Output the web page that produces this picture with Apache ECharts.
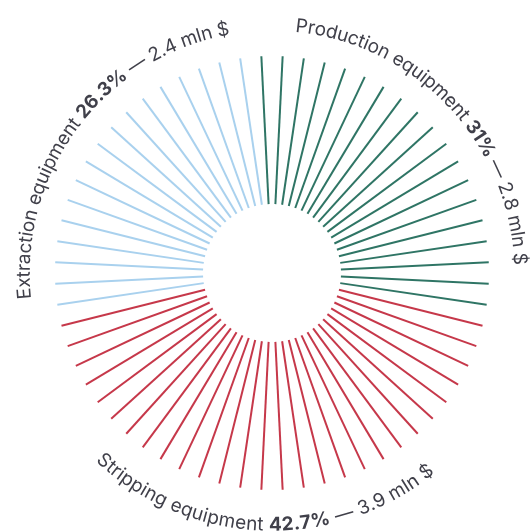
<!DOCTYPE html>
<html>
<head>
<meta charset="utf-8">
<script src="https://cdn.jsdelivr.net/npm/echarts@6/dist/echarts.min.js"></script>
<style>
html,body{margin:0;padding:0;background:#fff;}
#main{width:530px;height:531px;}
</style>
</head>
<body>
<div id="main"></div>
<script>
// ---- data ----
const categories = ['Production equipment', 'Stripping equipment', 'Extraction equipment'];
const shares = ['31%', '42.7%', '26.3%'];
const amounts = ['2.8 mln $', '3.9 mln $', '2.4 mln $'];
const rayCounts = [19, 28, 17]; // number of rays drawn per category
const colors = ['#2f7565', '#c6384a', '#a9d1ee'];

// ---- layout ----
const totalRays = rayCounts.reduce((a, b) => a + b, 0);
const labelCenterAngles = [46.8, 182, 307]; // degrees clockwise from top
const labelOnTop = [true, false, true];
const FONT = 'Inter';
const FONT_SIZE = 19;
const TEXT_COLOR = '#40404a';

const rayData = [];
let idx = 0;
rayCounts.forEach((n, c) => {
  for (let k = 0; k < n; k++) { rayData.push([idx, c]); idx++; }
});

const measureCtx = document.createElement('canvas').getContext('2d');
function charWidth(ch, bold) {
  measureCtx.font = (bold ? 'bold ' : 'normal ') + FONT_SIZE + 'px ' + FONT;
  return measureCtx.measureText(ch).width;
}

function renderLabel(params, api) {
  const c = api.value(0);
  const cs = params.coordSys;
  const r = cs.r + (labelOnTop[c] ? 31 : 35);
  const parts = [
    { t: categories[c] + ' ', b: false },
    { t: shares[c], b: true },
    { t: ' \u2014 ' + amounts[c], b: false }
  ];
  const chars = [];
  parts.forEach(p => { for (const ch of p.t) chars.push({ ch, b: p.b, w: charWidth(ch, p.b) }); });
  const total = chars.reduce((s, o) => s + o.w, 0) / r; // radians
  const center = labelCenterAngles[c] * Math.PI / 180;
  const top = labelOnTop[c];
  let pos = top ? center - total / 2 : center + total / 2;
  const children = [];
  chars.forEach(o => {
    const half = o.w / 2 / r;
    const th = top ? pos + half : pos - half;
    pos = top ? pos + o.w / r : pos - o.w / r;
    if (o.ch === ' ') return;
    const x = cs.cx + r * Math.sin(th);
    const y = cs.cy - r * Math.cos(th);
    children.push({
      type: 'text',
      x: x, y: y,
      rotation: top ? -th : Math.PI - th,
      style: {
        text: o.ch,
        x: 0, y: 0,
        align: 'center',
        verticalAlign: 'middle',
        fill: TEXT_COLOR,
        font: (o.b ? 'bold ' : 'normal ') + FONT_SIZE + 'px ' + FONT
      }
    });
  });
  return { type: 'group', children: children };
}

const chart = echarts.init(document.getElementById('main'), null, { renderer: 'canvas' });
chart.setOption({
  animation: false,
  backgroundColor: '#ffffff',
  polar: { center: [272, 273], radius: [69, 217] },
  angleAxis: {
    type: 'value', min: 0, max: totalRays,
    startAngle: 90 + 180 / totalRays, clockwise: true,
    show: false
  },
  radiusAxis: { type: 'value', min: 0, max: 1, show: false },
  series: [
    {
      type: 'custom',
      coordinateSystem: 'polar',
      data: rayData,
      renderItem: function (params, api) {
        const a = api.value(0);
        const c = api.value(1);
        const p0 = api.coord([0, a]);
        const p1 = api.coord([1, a]);
        return {
          type: 'line',
          shape: { x1: p0[0], y1: p0[1], x2: p1[0], y2: p1[1] },
          style: { stroke: colors[c], lineWidth: 2 }
        };
      }
    },
    {
      type: 'custom',
      coordinateSystem: 'polar',
      data: categories.map((_, i) => [i]),
      dimensions: ['cat'],
      encode: { radius: -1, angle: -1 },
      renderItem: renderLabel
    }
  ]
});
</script>
</body>
</html>
